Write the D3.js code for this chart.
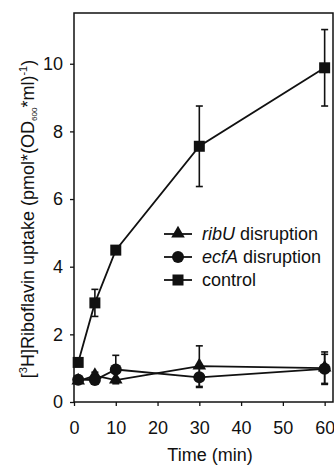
<!DOCTYPE html>
<html>
<head>
<meta charset="utf-8">
<script src="https://cdn.jsdelivr.net/npm/d3@7"></script>
<style>
  body { margin: 0; background: #fff; }
  text { font-family: "Liberation Sans", Arial, sans-serif; fill: #111; }
</style>
</head>
<body>
<div id="chart"></div>
<script>
// time points (min)
var times = [1, 5, 10, 30, 60];

var ribU = [0.62, 0.78, 0.65, 1.06, 1.0];
var ribUErr = [0.05, 0.1, 0.05, 0.6, 0.48];

var ecfA = [0.66, 0.65, 0.96, 0.73, 0.98];
var ecfAErr = [0.05, 0.05, 0.42, 0.3, 0.43];

var control = [1.17, 2.93, 4.49, 7.56, 9.88];
var controlErr = [0.05, 0.4, 0.1, 1.19, 1.13];

var xTicks = [0, 10, 20, 30, 40, 50, 60];
var yTicks = [0, 2, 4, 6, 8, 10];

var series = [
  { name: "ribU", suffix: " disruption", italic: true, shape: "triangle", values: ribU, err: ribUErr },
  { name: "ecfA", suffix: " disruption", italic: true, shape: "circle", values: ecfA, err: ecfAErr },
  { name: "control", suffix: "", italic: false, shape: "square", values: control, err: controlErr }
];

var width = 334, height = 465;
var margin = { left: 74, right: 1, top: 13, bottom: 63 };
var fs = "18px";

var svg = d3.select("#chart").append("svg")
  .attr("width", width)
  .attr("height", height);

var x = d3.scaleLinear()
  .domain([0, 62])
  .range([margin.left, width - margin.right]);

var y = d3.scaleLinear()
  .domain([0, 11.5])
  .range([height - margin.bottom, margin.top]);

// frame
svg.append("rect")
  .attr("x", x(0))
  .attr("y", y(11.5))
  .attr("width", x(62) - x(0))
  .attr("height", y(0) - y(11.5))
  .attr("fill", "none")
  .attr("stroke", "#111")
  .attr("stroke-width", 1.5);

var xAxis = svg.append("g")
  .attr("transform", "translate(0," + y(0) + ")")
  .call(d3.axisBottom(x).tickValues(xTicks).tickSize(4).tickPadding(15));

var yAxis = svg.append("g")
  .attr("transform", "translate(" + x(0) + ",0)")
  .call(d3.axisLeft(y).tickValues(yTicks).tickSize(4).tickPadding(7));

[xAxis, yAxis].forEach(function(a) {
  a.select(".domain").remove();
  a.selectAll("line").attr("stroke", "#111").attr("stroke-width", 1.3);
  a.selectAll("text")
    .attr("font-size", fs)
    .attr("font-family", "Liberation Sans, Arial, sans-serif")
    .attr("fill", "#111");
});

// axis titles
svg.append("text")
  .attr("x", 210)
  .attr("y", 461)
  .attr("text-anchor", "middle")
  .attr("font-size", fs)
  .text("Time (min)");

var yTitle = svg.append("text")
  .attr("transform", "translate(34," + 219 + ") rotate(-90)")
  .attr("text-anchor", "middle")
  .attr("font-size", fs);
yTitle.append("tspan").text("[");
yTitle.append("tspan").attr("font-size", "11px").attr("dy", -7).text("3");
yTitle.append("tspan").attr("dy", 7).text("H]Riboflavin uptake (pmol*(OD");
yTitle.append("tspan").attr("font-size", "8px").attr("dy", 3).text("600");
yTitle.append("tspan").attr("dy", -3).text("*ml)");
yTitle.append("tspan").attr("font-size", "11px").attr("dy", -7).text("-1");
yTitle.append("tspan").attr("dy", 7).text(")");

function drawMarker(g, shape, cx, cy) {
  if (shape === "square") {
    g.append("rect")
      .attr("x", cx - 5.5).attr("y", cy - 5.5)
      .attr("width", 11).attr("height", 11)
      .attr("fill", "#111");
  } else if (shape === "circle") {
    g.append("circle")
      .attr("cx", cx).attr("cy", cy).attr("r", 6)
      .attr("fill", "#111");
  } else {
    g.append("path")
      .attr("d", d3.symbol().type(d3.symbolTriangle).size(80)())
      .attr("transform", "translate(" + cx + "," + (cy - 0.5) + ")")
      .attr("fill", "#111");
  }
}

var line = d3.line()
  .x(function(d) { return x(d[0]); })
  .y(function(d) { return y(d[1]); });

series.forEach(function(s) {
  var g = svg.append("g");
  var pts = times.map(function(t, i) { return [t, s.values[i], s.err[i]]; });

  // error bars
  pts.forEach(function(p) {
    var top = y(p[1] + p[2]), bot = y(p[1] - p[2]), cx = x(p[0]);
    g.append("line")
      .attr("x1", cx).attr("x2", cx).attr("y1", top).attr("y2", bot)
      .attr("stroke", "#111").attr("stroke-width", 1.6);
    [top, bot].forEach(function(yy) {
      g.append("line")
        .attr("x1", cx - 3.5).attr("x2", cx + 3.5).attr("y1", yy).attr("y2", yy)
        .attr("stroke", "#111").attr("stroke-width", 1.6);
    });
  });

  g.append("path")
    .datum(pts)
    .attr("d", line)
    .attr("fill", "none")
    .attr("stroke", "#111")
    .attr("stroke-width", 1.8);

  pts.forEach(function(p) {
    drawMarker(g, s.shape, x(p[0]), y(p[1]));
  });
});

// legend
var legend = svg.append("g");
series.forEach(function(s, i) {
  var ly = 234 + i * 23;
  legend.append("line")
    .attr("x1", 164).attr("x2", 192)
    .attr("y1", ly).attr("y2", ly)
    .attr("stroke", "#111").attr("stroke-width", 1.8);
  drawMarker(legend, s.shape, 178, ly);
  var t = legend.append("text")
    .attr("x", 202).attr("y", ly + 6)
    .attr("font-size", fs);
  t.append("tspan").attr("font-style", s.italic ? "italic" : "normal").text(s.name);
  t.append("tspan").text(s.suffix);
});
</script>
</body>
</html>
